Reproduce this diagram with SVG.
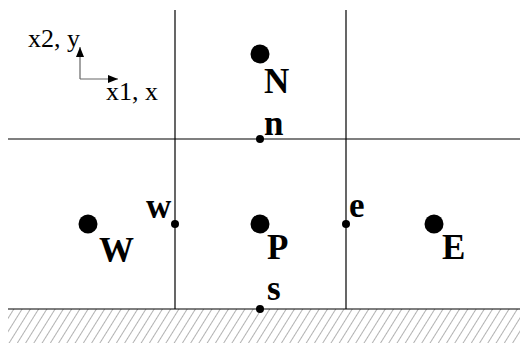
<svg xmlns="http://www.w3.org/2000/svg" width="520" height="343" viewBox="0 0 520 343">
<style>
.grid{stroke:#000;stroke-width:1.2;fill:none}
.axis{stroke:#666;stroke-width:1.2;fill:none}
.big{fill:#000}
.lbl{font-family:"Liberation Serif","Times New Roman",serif;font-weight:bold;font-size:35px;fill:#000}
.ax{font-family:"Liberation Serif","Times New Roman",serif;font-size:26px;fill:#000}
</style>
<defs>
<marker id="arr" viewBox="0 0 10 8" refX="10" refY="4" markerWidth="10" markerHeight="8" markerUnits="userSpaceOnUse" orient="auto">
<path d="M0,0 L10,4 L0,8 Z" fill="#000"/>
</marker>
<pattern id="hatch" patternUnits="userSpaceOnUse" width="7" height="10" patternTransform="rotate(32)">
<line x1="0" y1="-1" x2="0" y2="11" stroke="#555" stroke-width="0.9"/>
</pattern>
</defs>
<rect x="0" y="0" width="520" height="343" fill="#fff"/>
<g id="ground">
<rect x="8" y="309" width="512" height="34" fill="url(#hatch)"/>
</g>
<g id="connectors">
<line class="grid" x1="175" y1="10" x2="175" y2="309"/>
<line class="grid" x1="346" y1="10" x2="346" y2="309"/>
<line class="grid" x1="8" y1="139" x2="520" y2="139"/>
<line class="grid" x1="8" y1="309" x2="520" y2="309"/>
<line class="axis" x1="80" y1="79" x2="80" y2="47" marker-end="url(#arr)"/>
<line class="axis" x1="80" y1="79" x2="118" y2="79" marker-end="url(#arr)"/>
</g>
<g id="axes-labels">
<text class="ax" x="28" y="47">x2, y</text>
<text class="ax" x="106" y="100">x1, x</text>
</g>
<g id="node-N"><circle class="big" cx="260" cy="54" r="9.5"/><text class="lbl" x="264" y="93">N</text></g>
<g id="node-W"><circle class="big" cx="88" cy="224" r="9.5"/><text class="lbl" x="99" y="262">W</text></g>
<g id="node-P"><circle class="big" cx="260" cy="224" r="9.5"/><text class="lbl" x="267" y="259">P</text></g>
<g id="node-E"><circle class="big" cx="434" cy="224" r="9.5"/><text class="lbl" x="442" y="259">E</text></g>
<g id="node-n"><circle class="big" cx="260" cy="139" r="4"/><text class="lbl" x="264" y="135">n</text></g>
<g id="node-w"><circle class="big" cx="175" cy="224" r="4"/><text class="lbl" x="146" y="218">w</text></g>
<g id="node-e"><circle class="big" cx="346" cy="224" r="4"/><text class="lbl" x="349" y="217">e</text></g>
<g id="node-s"><circle class="big" cx="260" cy="309" r="4"/><text class="lbl" x="267" y="300">s</text></g>
</svg>
